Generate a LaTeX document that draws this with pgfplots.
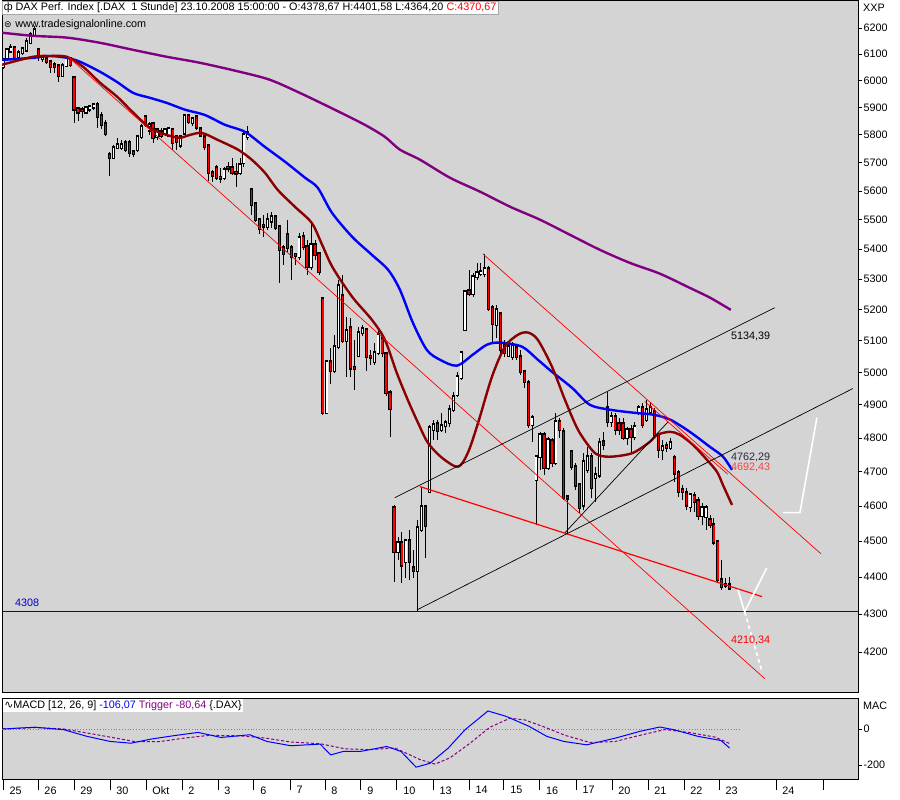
\documentclass[border=0pt]{standalone}
\usepackage{pgfplots}
\pgfplotsset{compat=1.18}
\usepackage{pgfplotstable}
\usepackage{fontspec}
\setmainfont{Liberation Sans}
\newfontfamily\dejavu{DejaVu Sans}
\definecolor{panel}{RGB}{212,212,212}
\definecolor{mapurple}{RGB}{128,0,128}
\definecolor{madred}{RGB}{139,0,0}
\definecolor{mablue}{RGB}{0,0,255}
\definecolor{cred}{RGB}{255,0,0}
\definecolor{lblue}{RGB}{0,0,200}
\definecolor{lred}{RGB}{255,64,64}
\definecolor{slate}{RGB}{40,40,70}
\newcommand\fs{\fontsize{10.8bp}{12bp}\selectfont}

\pgfplotstableread{
n o h l c
0 6051 6085 6043 6077
1 6085 6123 6077 6115
2 6111 6138 6108 6123
3 6123 6127 6081 6085
4 6089 6115 6077 6104
5 6104 6127 6096 6119
6 6115 6162 6111 6146
7 6142 6185 6140 6173
8 6173 6208 6169 6192
9 6115 6119 6074 6092
10 6081 6096 6070 6089
11 6081 6089 6062 6070
12 6070 6077 6028 6051
13 6059 6070 6028 6051
14 6055 6062 5994 6017
15 6017 6066 6013 6055
16 6055 6089 6051 6081
17 6081 6089 6051 6059
18 6009 6017 5843 5894
19 5894 5901 5850 5883
20 5890 5901 5861 5887
21 5883 5905 5880 5898
22 5894 5909 5883 5901
23 5901 5916 5891 5909
24 5909 5920 5825 5865
25 5869 5883 5821 5836
26 5839 5854 5796 5803
27 5728 5738 5653 5717
28 5717 5763 5713 5753
29 5753 5789 5749 5763
30 5753 5781 5746 5763
31 5771 5781 5738 5746
32 5771 5781 5721 5735
33 5738 5746 5721 5731
34 5746 5799 5738 5792
35 5792 5839 5785 5828
36 5865 5869 5828 5836
37 5817 5847 5799 5836
38 5839 5847 5771 5789
39 5792 5825 5781 5817
40 5810 5825 5789 5796
41 5803 5825 5796 5817
42 5799 5828 5792 5821
43 5817 5825 5746 5771
44 5792 5799 5746 5774
45 5763 5799 5753 5792
46 5806 5876 5803 5869
47 5869 5876 5839 5847
48 5843 5865 5832 5858
49 5865 5872 5817 5828
50 5821 5828 5792 5799
51 5792 5806 5746 5756
52 5760 5767 5635 5664
53 5664 5674 5632 5655
54 5681 5692 5639 5646
55 5648 5681 5628 5644
56 5646 5685 5639 5674
57 5683 5703 5667 5679
58 5681 5717 5657 5664
59 5666 5699 5614 5662
60 5664 5717 5657 5692
61 5699 5810 5685 5799
62 5792 5832 5781 5806
63 5603 5611 5517 5552
64 5555 5562 5493 5500
65 5500 5507 5452 5469
66 5481 5517 5442 5477
67 5476 5524 5466 5500
68 5496 5527 5472 5510
69 5510 5517 5466 5472
70 5476 5483 5288 5398
71 5404 5414 5348 5384
72 5449 5500 5391 5404
73 5404 5414 5298 5374
74 5382 5388 5348 5378
75 5374 5455 5364 5438
76 5441 5459 5398 5408
77 5408 5431 5314 5341
78 5341 5490 5331 5415
79 5415 5431 5364 5381
80 5384 5391 5314 5324
81 5235 5242 4870 4876
82 4876 5040 4872 5034
83 5034 5078 4965 5005
84 5005 5119 4999 5081
85 5081 5298 5072 5278
86 5245 5314 5093 5100
87 5100 5177 4986 5132
88 5142 5174 4986 5014
89 5016 5103 4946 5012
90 5053 5145 5047 5126
91 5126 5151 5116 5138
92 5135 5142 5005 5049
93 5051 5071 5024 5047
94 5034 5094 5024 5062
95 5062 5135 5056 5119
96 5106 5113 5049 5062
97 5059 5065 4928 4937
98 4937 4946 4803 4888
99 4595 4603 4387 4471
100 4471 4512 4448 4496
101 4496 4527 4385 4434
102 4443 4507 4398 4501
103 4501 4532 4393 4443
104 4426 4476 4398 4418
105 4418 4561 4308 4538
106 4532 4656 4527 4598
107 4598 4603 4454 4544
108 4641 4840 4638 4830
109 4824 4855 4794 4840
110 4843 4855 4794 4821
111 4824 4876 4818 4836
112 4836 4855 4815 4845
113 4845 4900 4833 4885
114 4885 4940 4879 4925
115 4931 5002 4925 4986
116 4983 5065 4977 5062
117 5135 5265 5132 5258
118 5262 5331 5245 5252
119 5252 5321 5242 5308
120 5308 5354 5298 5321
121 5318 5354 5311 5324
122 5318 5384 5308 5334
123 5334 5344 5196 5203
124 5206 5215 5093 5154
125 5151 5215 5109 5199
126 5186 5193 5056 5071
127 5087 5103 5049 5062
128 5053 5090 5047 5081
129 5049 5097 5040 5084
130 5078 5087 5040 5049
131 5049 5071 4993 5002
132 5002 5008 4952 4971
133 4968 4977 4830 4839
134 4839 4870 4788 4861
135 4676 4750 4547 4744
136 4744 4818 4705 4809
137 4809 4818 4690 4711
138 4711 4803 4705 4794
139 4791 4800 4714 4726
140 4726 4876 4720 4848
141 4848 4861 4800 4824
142 4818 4830 4618 4624
143 4626 4632 4524 4622
144 4758 4764 4705 4714
145 4714 4726 4647 4661
146 4661 4667 4581 4595
147 4603 4755 4589 4729
148 4705 4773 4696 4744
149 4744 4755 4624 4653
150 4682 4714 4612 4690
151 4690 4800 4682 4785
152 4788 4818 4764 4779
153 4891 4940 4833 4848
154 4848 4879 4833 4864
155 4864 4876 4809 4824
156 4843 4861 4809 4824
157 4843 4861 4794 4800
158 4800 4833 4779 4824
159 4824 4839 4758 4803
160 4803 4848 4794 4833
161 4879 4900 4870 4891
162 4891 4906 4830 4839
163 4855 4915 4848 4885
164 4879 4909 4870 4891
165 4879 4891 4800 4809
166 4809 4815 4741 4764
167 4764 4794 4735 4773
168 4776 4788 4758 4770
169 4770 4800 4764 4785
170 4741 4750 4670 4696
171 4696 4705 4627 4641
172 4647 4661 4618 4641
173 4638 4653 4589 4603
174 4598 4638 4584 4632
175 4629 4641 4584 4612
176 4615 4626 4561 4572
177 4572 4609 4547 4595
178 4569 4603 4532 4595
179 4561 4575 4538 4547
180 4547 4567 4490 4498
181 4498 4504 4387 4393
182 4393 4448 4366 4374
183 4381 4398 4371 4378
184 4378.67 4401.58 4364.20 4370.67
}\candles

\newcommand\plotlist[2]{\addplot[#2] coordinates {#1};}

% build the candle coordinate lists from the table (in the preamble: no stray spaces)
\pgfplotstablegetrowsof{\candles}
\pgfmathtruncatemacro\lastrow{\pgfplotsretval-1}
\gdef\wicks{}\gdef\ups{}\gdef\dns{}
\pgfplotsforeachungrouped \i in {0,...,\lastrow}{%
  \pgfplotstablegetelem{\i}{n}\of\candles\let\cn\pgfplotsretval
  \pgfplotstablegetelem{\i}{o}\of\candles\let\co\pgfplotsretval
  \pgfplotstablegetelem{\i}{h}\of\candles\let\ch\pgfplotsretval
  \pgfplotstablegetelem{\i}{l}\of\candles\let\cl\pgfplotsretval
  \pgfplotstablegetelem{\i}{c}\of\candles\let\cc\pgfplotsretval
  \xdef\wicks{\wicks(\cn,\cl)(\cn,\ch)(\cn,nan)}%
  \ifdim\cc pt<\co pt
    \xdef\dns{\dns(\cn,\co)(\cn,\cc)(\cn,nan)}%
  \else
    \xdef\ups{\ups(\cn,\co)(\cn,\cc)(\cn,nan)}%
  \fi
}

\begin{document}%
\begin{tikzpicture}
\useasboundingbox (0bp,0bp) rectangle (900bp,800bp);
\fill[white] (0bp,0bp) rectangle (900bp,800bp);
% ---------------- main price panel ----------------
\begin{axis}[
  at={(2bp,107bp)}, anchor=south west, scale only axis,
  width=856bp, height=692bp,
  xmin=-0.25, xmax=216.5,
  ymode=log, ymin=4093.7, ymax=6305.4,
  axis background/.style={fill=panel},
  axis line style={black, line width=0.8bp},
  xtick=\empty,
  ytick={4200,4300,4400,4500,4600,4700,4800,4900,5000,5100,5200,5300,5400,5500,5600,5700,5800,5900,6000,6100,6200},
  yticklabels={4200,4300,4400,4500,4600,4700,4800,4900,5000,5100,5200,5300,5400,5500,5600,5700,5800,5900,6000,6100,6200},
  ytick pos=right, yticklabel pos=right,
  tick align=outside, major tick length=4bp,
  ytick style={black, line width=0.6bp},
  yticklabel style={font=\fs, anchor=west, xshift=-2bp},
  /pgf/number format/assume math mode=true,
  clip=true,
]
% support line 4308
\addplot[lblue, line width=1bp] coordinates {(-0.25,4308) (216.5,4308)};
% candles
\expandafter\plotlist\expandafter{\wicks}{black, line width=0.8bp, unbounded coords=jump, forget plot}
\expandafter\plotlist\expandafter{\ups}{black, line width=3.2bp, line cap=rect, unbounded coords=jump, forget plot}
\expandafter\plotlist\expandafter{\dns}{black, line width=3.2bp, line cap=rect, unbounded coords=jump, forget plot}
\expandafter\plotlist\expandafter{\ups}{white, line width=1.4bp, line cap=butt, unbounded coords=jump, forget plot}
\expandafter\plotlist\expandafter{\dns}{cred, line width=1.4bp, line cap=butt, unbounded coords=jump, forget plot}
% moving averages
\addplot[mapurple, line width=2.4bp, smooth] coordinates {
(-0.25,6181) (7.6,6169) (16.2,6162) (24.6,6142) (33,6115) (41.5,6089) (49.9,6066) (60,6032) (67.6,6002) (75.2,5953) (84,5891) (91.6,5836) (96.7,5792) (100.5,5746) (105.6,5710) (113.2,5646) (120.8,5597) (128.4,5545) (136,5500) (143.5,5449) (151.1,5398) (158.7,5354) (166.3,5318) (173.9,5271) (179,5239) (184.3,5199)};
\addplot[mablue, line width=2.4bp, smooth] coordinates {
(-0.25,6077) (7.6,6085) (11.9,6092) (16.2,6085) (19.5,6070) (24.6,6032) (28.9,5994) (33,5953) (37.2,5935) (41.5,5916) (46.1,5891) (51.1,5872) (56.2,5836) (61.3,5810) (66.3,5756) (71.4,5703) (76.5,5646) (79.7,5611) (83.3,5524) (88.4,5442) (93.4,5381) (97.5,5331) (100.5,5265) (103.8,5157) (107.3,5071) (110.6,5040) (114.9,5021) (119,5056) (122.5,5087) (125.8,5094) (131.4,5081) (135.4,5040) (139,5002) (144.1,4952) (148.6,4900) (153.7,4885) (159.5,4876) (164.6,4870) (168.9,4855) (173.9,4818) (179,4773) (182.3,4744) (184.6,4705)};
\addplot[madred, line width=2.4bp, smooth] coordinates {
(-0.25,6059) (7.6,6089) (11.9,6092) (16.2,6089) (20.3,6051) (24.6,5991) (28.9,5939) (33,5880) (37.2,5825) (41.5,5799) (44.8,5789) (47.3,5799) (50.4,5806) (54.4,5781) (59.5,5746) (63,5710) (66.3,5664) (69.6,5603) (73.9,5545) (78.2,5489) (80.8,5415) (83.5,5338) (88.4,5242) (93.4,5167) (96.7,5103) (99.7,4999) (102.5,4915) (105.1,4845) (107.6,4785) (111.1,4741) (115.2,4714) (117.7,4755) (120.3,4845) (123.8,4986) (127.1,5081) (130.4,5119) (132.9,5126) (135.4,5103) (139,5018) (142.3,4915) (145.6,4824) (149.1,4764) (151.1,4747) (154.4,4744) (159.5,4755) (163.8,4788) (165.6,4809) (168.9,4818) (171.4,4809) (174.7,4779) (178.2,4735) (180.8,4699) (182.3,4661) (184.6,4603)};
% trend lines
\addplot[cred, line width=0.7bp] coordinates {(16.5,6089) (192.9,4130)};
\addplot[cred, line width=0.7bp] coordinates {(121.5,5384) (207.1,4465)};
\addplot[cred, line width=0.7bp] coordinates {(162.5,4910) (183.5,4692.43)};
\addplot[cred, line width=1.2bp] coordinates {(105.6,4656) (192.2,4347)};
\addplot[black, line width=0.7bp] coordinates {(104.8,4311) (215.2,4950)};
\addplot[black, line width=0.7bp] coordinates {(99.2,4624) (195.4,5206)};
\addplot[black, line width=0.7bp] coordinates {(142.3,4524) (168.4,4848)};
% hand drawn projections
\addplot[white, line width=1.6bp] coordinates {(186.1,4366) (187.8,4306) (193.4,4426)};
\addplot[white, line width=1.6bp, dash pattern=on 4bp off 3bp] coordinates {(187.8,4306) (192.2,4148)};
\addplot[white, line width=1.6bp] coordinates {(197.5,4581) (201.8,4581) (206.1,4861)};
% value labels
\node[anchor=west, font=\fs, inner sep=0pt] at (axis cs:184.3,5113) {5134,39};
\node[anchor=west, font=\fs, inner sep=0pt, text=slate] at (axis cs:184.3,4743) {4762,29};
\node[anchor=west, font=\fs, inner sep=0pt, text=lred] at (axis cs:184.3,4712) {4692,43};
\node[anchor=west, font=\fs, inner sep=0pt, text=cred] at (axis cs:184.3,4229) {4210,34};
\node[anchor=west, font=\fs, inner sep=0pt, text=lblue] at (axis cs:3,4330) {4308};
\end{axis}
% ---------------- MACD panel ----------------
\begin{axis}[
  at={(2bp,21bp)}, anchor=south west, scale only axis,
  width=856bp, height=81bp,
  xmin=-0.25, xmax=216.5,
  ymin=-277.8, ymax=172.2,
  axis background/.style={fill=panel},
  axis line style={black, line width=0.8bp},
  ytick={0,-200}, yticklabels={0,-200},
  ytick pos=right, yticklabel pos=right,
  xtick={0,8.86,17.97,27.09,36.2,45.3,54.4,63.5,72.7,81.5,90.6,99.7,108.9,118,126.8,135.9,145.1,154.2,163.3,172.4,181.3,195.7,207.6},
  xticklabels={25,26,29,30,Okt,2,3,6,7,8,9,10,13,14,15,16,17,20,21,22,23,24,{}},
  xtick pos=bottom,
  tick align=outside, major tick length=4bp,
  ytick style={black, line width=0.6bp},
  xtick style={black, line width=0.6bp, /pgfplots/major tick length=11bp},
  yticklabel style={font=\fs, anchor=west, xshift=-2bp},
  xticklabel style={font=\fs, anchor=north west, xshift=3bp, yshift=0bp},
  /pgf/number format/assume math mode=true,
  clip=true,
]
\addplot[gray, line width=0.8bp, dotted] coordinates {(-0.25,0) (186.5,0)};
\addplot[mapurple, line width=1bp, dash pattern=on 3bp off 2bp] coordinates {
(0,0) (8.1,8) (15.4,0) (22,-25) (27.1,-45) (33.4,-70) (39.7,-70) (46.1,-50) (52.4,-35) (60,-38) (66.3,-50) (72.7,-72) (80.3,-82) (86.6,-110) (92.9,-115) (99.2,-105) (105.6,-170) (109.4,-195) (113.2,-160) (118.2,-80) (123.3,10) (128.4,60) (132.2,50) (137.2,10) (142.3,-35) (148.6,-75) (154.9,-70) (161.3,-35) (167.6,-3) (173.9,-20) (180.3,-45) (184,-80.64)};
\addplot[mablue, line width=1bp] coordinates {
(0,0) (8.1,10) (15.4,-4) (21.3,-41) (27.1,-69) (32.4,-79) (37.5,-56) (43.3,-37) (49.4,-19) (55.2,-47) (62.5,-32) (66.8,-69) (72.9,-93) (80.3,-84) (83,-144) (86.1,-125) (90.4,-125) (97.2,-97) (100.8,-125) (104.6,-212) (108.1,-191) (112.7,-107) (117,-4) (122.8,100) (127.3,71) (133.2,15) (137.7,-41) (142,-69) (147.8,-88) (155.2,-50) (161.3,-13) (166.3,11) (169.9,-4) (176,-41) (181.8,-64) (184,-106.07)};
\end{axis}
% ---------------- header texts ----------------
\node[anchor=north west, fill=white, draw=gray!70, line width=0.5bp, inner sep=1.5bp, font=\fs] at (2bp,799bp)
  {ф\ DAX Perf. Index [.DAX\ \ 1 Stunde] 23.10.2008 15:00:00 - O:4378,67 H:4401,58 L:4364,20 \textcolor{cred}{C:4370,67}};
\node[anchor=west, inner sep=0pt, font=\fs] at (4bp,775bp) {{\dejavu\fontsize{9bp}{10bp}\selectfont ⊜}\,\,www.tradesignalonline.com};
\node[anchor=north west, fill=white, inner sep=1.2bp, font=\fs] at (3bp,101bp)
  {{\dejavu ∿}MACD [12, 26, 9] \textcolor{mablue}{-106,07} \textcolor{mapurple}{Trigger -80,64} \{.DAX\}};
\node[anchor=north west, inner sep=0pt, font=\fs] at (863bp,796bp) {XXP};
\node[anchor=north west, inner sep=0pt, font=\fs] at (863bp,98bp) {MAC};
\end{tikzpicture}%
\end{document}
